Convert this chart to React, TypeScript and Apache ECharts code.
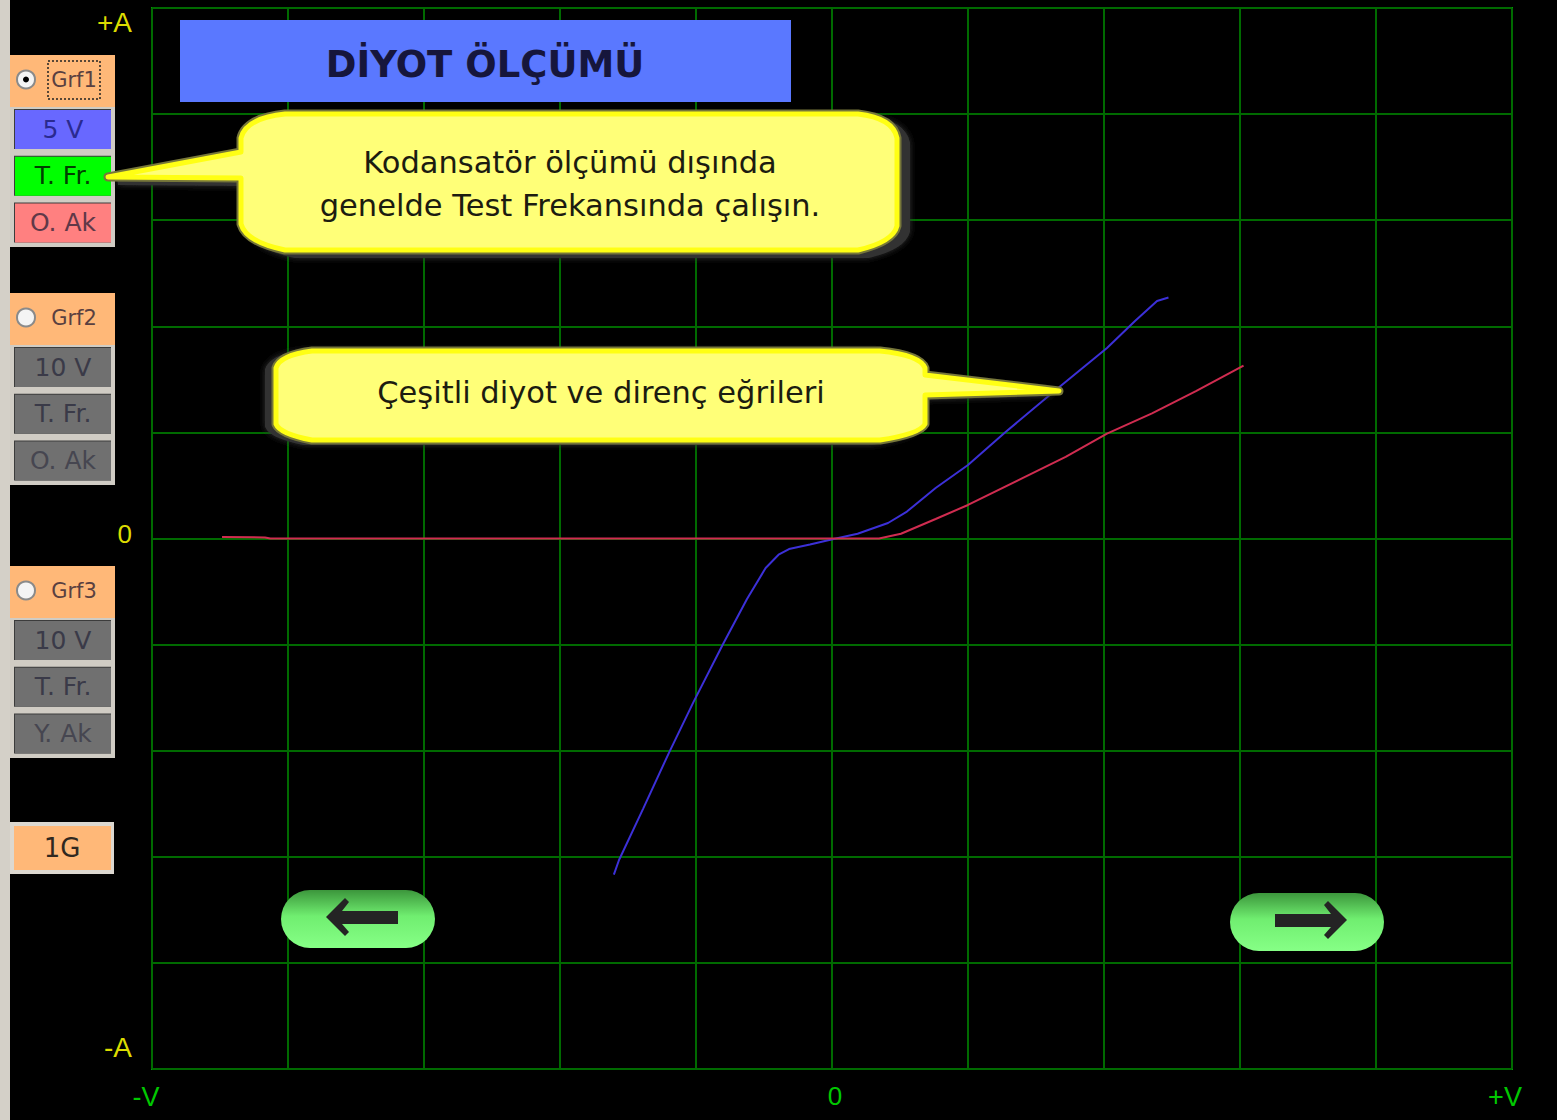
import React, { useEffect, useRef } from "react";
import * as echarts from "echarts";

const blueCurve: number[][] = [
  [-1.604, -3.168], [-1.566, -3.03], [-1.39, -2.55], [-1.199, -2.02], [-1.018, -1.54], [-0.801, -0.994],
  [-0.625, -0.57], [-0.488, -0.278], [-0.393, -0.153], [-0.316, -0.099], [-0.162, -0.057], [-0.004, -0.009],
  [0.188, 0.045], [0.412, 0.146], [0.551, 0.254], [0.762, 0.476], [1.0, 0.693], [1.272, 0.999],
  [1.654, 1.409], [2.022, 1.795], [2.228, 2.05], [2.39, 2.238], [2.474, 2.271],
];
const redCurve: number[][] = [
  [-4.485, 0.014], [-4.169, 0.01], [-4.13, 0], [0.346, 0], [0.507, 0.045], [0.762, 0.184], [1.0, 0.316],
  [1.397, 0.567], [1.718, 0.77], [2.022, 0.989], [2.353, 1.18], [2.676, 1.39], [3.026, 1.63],
];
const groupLabels = ["Grf1", "Grf2", "Grf3"];
const group1Buttons = ["5 V", "T. Fr.", "O. Ak"];
const group2Buttons = ["10 V", "T. Fr.", "O. Ak"];
const group3Buttons = ["10 V", "T. Fr.", "Y. Ak"];
const titleText = "DİYOT ÖLÇÜMÜ";
const callout1Text = "Kodansatör ölçümü dışında\ngenelde Test Frekansında çalışın.";
const callout2Text = "Çeşitli diyot ve direnç eğrileri";
const timebaseText = "1G";

const BTN_FONT = '"DejaVu Sans", sans-serif';
const GRID = "#006a00";

const callout1Path =
  "M285 114 L858 114 Q893 118 897 138 L897 226 Q893 242 858 250 L285 250 Q246 242 241 224 L241 178 L108 177 L241 152 L241 138 Q246 118 285 114 Z";
const callout2Path =
  "M312 351 L880 351 Q920 355 925 368 L925 375 L1059 391 L925 395 L925 424 Q920 434 880 440 L312 440 Q280 434 276 424 L276 368 Q280 355 312 351 Z";
echarts.graphic.registerShape("callout1", echarts.graphic.extendPath(callout1Path, {}));
echarts.graphic.registerShape("callout2", echarts.graphic.extendPath(callout2Path, {}));

function buildGraphics(): any[] {
  const out: any[] = [];
  const rect = (x: number, y: number, w: number, h: number, fill: any, extra: any = {}) =>
    out.push({ type: "rect", shape: { x, y, width: w, height: h, ...(extra.r ? { r: extra.r } : {}) }, style: { fill, ...(extra.style || {}) } });
  const text = (x: number, y: number, t: string, size: number, fill: string, extra: any = {}) =>
    out.push({
      type: "text", x, y,
      style: { text: t, fill, font: `${extra.weight || "normal"} ${size}px ${extra.font || BTN_FONT}`, align: "center", verticalAlign: "middle", lineHeight: extra.lineHeight },
    });

  rect(0, 0, 10, 1120, "#d4d0c8");
  rect(180, 20, 611, 82, "#5a78ff");
  text(485, 64, titleText, 37, "#16163c", { weight: "bold" });

  const panel = (top: number, label: string, btns: string[], fills: string[], inks: string[], radioOn: boolean) => {
    rect(10, top, 105, 52, "#ffb878");
    out.push({ type: "circle", shape: { cx: 26, cy: top + 24.5, r: 9 }, style: { fill: "#f4f4f4", stroke: "#8a8a8a", lineWidth: 2 } });
    if (radioOn) out.push({ type: "circle", shape: { cx: 26, cy: top + 24.5, r: 3 }, style: { fill: "#000" } });
    text(74, top + 24.5, label, 21, "#5a4040");
    if (radioOn) {
      rect(48, top + 6, 52, 38, "none", { style: { stroke: "#222", lineWidth: 1.5, lineDash: [2, 2] } });
    }
    rect(10, top + 52, 105, 47 * btns.length - 1, "#d0ccc4");
    btns.forEach((b, i) => {
      const y = top + 54 + i * 46.7;
      rect(14, y, 97, 40, "#3c3c3c");
      rect(15, y + 1, 96, 39, fills[i]);
      text(63, y + 20, b, 25, inks[i]);
    });
  };
  panel(55, groupLabels[0], group1Buttons, ["#6868ff", "#00ff00", "#ff8080"], ["#2a2a90", "#004000", "#603848"], true);
  const gray = ["#707070", "#707070", "#707070"];
  const grayInk = ["#3a3a48", "#3a3a48", "#464650"];
  panel(293, groupLabels[1], group2Buttons, gray, grayInk, false);
  panel(566, groupLabels[2], group3Buttons, gray, grayInk, false);

  rect(10, 822, 104, 52, "#dcd8d0");
  rect(14, 826, 97, 44, "#ffb878");
  text(62, 848, timebaseText, 26, "#302820");

  // Callouts
  const callout = (type: string, dx: number, dy: number, x: number, y: number, t: string) => {
    out.push({ type, x: dx, y: dy, style: { fill: "#333333", stroke: "#333333", lineWidth: 6, shadowBlur: 6, shadowColor: "#333333" } });
    out.push({ type, x: 0, y: 0, style: { fill: "#ffff78", stroke: "#77773a", lineWidth: 9, lineJoin: "round" } });
    out.push({ type, x: 0, y: 0, style: { fill: "#ffff78", stroke: "#ffff14", lineWidth: 5, lineJoin: "round" } });
    text(x, y, t, 30.5, "#1c1c10", { lineHeight: 43 });
  };
  callout("callout1", 10, 5, 570, 184, callout1Text);
  callout("callout2", -8, 2, 601, 392, callout2Text);

  // Nav buttons
  const pill = (x: number, y: number) =>
    rect(x, y, 154, 58, {
      type: "linear", x: 0, y: 0, x2: 0, y2: 1,
      colorStops: [{ offset: 0, color: "#3c963c" }, { offset: 0.45, color: "#70ee70" }, { offset: 1, color: "#86ff86" }],
    }, { r: 29 });
  pill(281, 890);
  out.push({ type: "polygon", shape: { points: [[326, 917], [345, 898], [349, 902], [342, 911], [398, 911], [398, 924], [342, 924], [349, 932], [345, 936]] }, style: { fill: "#242424" } });
  pill(1230, 893);
  out.push({ type: "polygon", shape: { points: [[1347, 920], [1328, 901], [1324, 905], [1331, 914], [1275, 914], [1275, 927], [1331, 927], [1324, 935], [1328, 939]] }, style: { fill: "#242424" } });

  out.forEach((e, i) => { e.z = 100 + i; });
  return out;
}

export default function App() {
  const ref = useRef<HTMLDivElement>(null);
  useEffect(() => {
    const chart = echarts.init(ref.current!, undefined, { renderer: "svg" });
    chart.setOption({
      animation: false,
      backgroundColor: "#000000",
      grid: { left: 152, right: 45, top: 8, bottom: 51, show: true, borderColor: "#00a000", borderWidth: 2, backgroundColor: "transparent" },
      xAxis: {
        type: "value", min: -5, max: 5, interval: 1,
        axisLine: { show: false }, axisTick: { show: false },
        splitLine: { show: true, lineStyle: { color: GRID, width: 2 } },
        axisLabel: {
          show: true, margin: 14, color: "#00c800", fontSize: 26, fontFamily: '"Liberation Sans", sans-serif',
          alignMinLabel: "center", alignMaxLabel: "center",
          formatter: (v: number) => (v === -5 ? "{a|-V}" : v === 0 ? "{b|0}" : v === 5 ? "{c|+V}" : ""),
          rich: {
            a: { padding: [0, 12, 0, 0], fontSize: 27, color: "#00c800" },
            b: { padding: [0, 0, 0, 6], fontSize: 26, color: "#00c800" },
            c: { padding: [0, 14, 0, 0], fontSize: 27, color: "#00c800" },
          },
        },
      },
      yAxis: {
        type: "value", min: -5, max: 5, interval: 1,
        axisLine: { show: false }, axisTick: { show: false },
        splitLine: { show: true, lineStyle: { color: GRID, width: 2 } },
        axisLabel: {
          show: true, margin: 20, color: "#dcdc00", fontSize: 26, fontFamily: '"Liberation Sans", sans-serif',
          verticalAlignMinLabel: "bottom", verticalAlignMaxLabel: "top",
          formatter: (v: number) => (v === -5 ? "{a|-A}" : v === 0 ? "{b|0}" : v === 5 ? "{c|+A}" : ""),
          rich: {
            a: { padding: [0, 0, 8, 0], fontSize: 28, color: "#dcdc00" },
            b: { padding: [0, 0, 10, 0], fontSize: 26, color: "#dcdc00" },
            c: { padding: [0, 0, 4, 0], fontSize: 28, color: "#dcdc00" },
          },
        },
      },
      series: [
        { name: "blue", type: "line", data: blueCurve, showSymbol: false, lineStyle: { color: "#3c30d8", width: 2 }, z: 3 },
        { name: "red", type: "line", data: redCurve, showSymbol: false, lineStyle: { color: "#d02c50", width: 2 }, z: 4 },
      ],
      graphic: { elements: buildGraphics() },
    });
    return () => chart.dispose();
  }, []);
  return <div ref={ref} style={{ position: "fixed", left: 0, top: 0, width: 1557, height: 1120, background: "#000" }} />;
}
